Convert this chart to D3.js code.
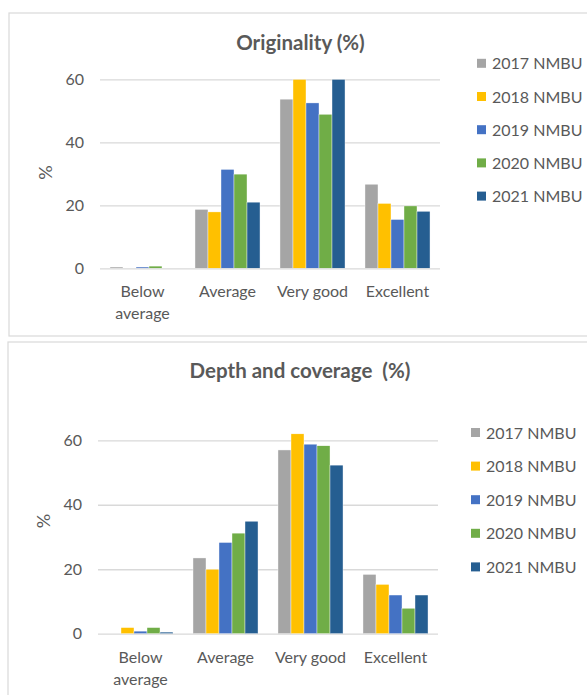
<!DOCTYPE html>
<html>
<head>
<meta charset="utf-8">
<script src="https://cdn.jsdelivr.net/npm/d3@7"></script>
<style>
  html, body { margin: 0; padding: 0; background: #fff; }
  svg { display: block; }
  text { font-family: Lato, "Open Sans", sans-serif; fill: #595959; }
</style>
</head>
<body>
<svg id="chart" width="587" height="695"></svg>
<script>
// ---- data ----
const categories = ["Below average", "Average", "Very good", "Excellent"];
const seriesNames = ["2017 NMBU", "2018 NMBU", "2019 NMBU", "2020 NMBU", "2021 NMBU"];
const seriesColors = ["#A5A5A5", "#FFC000", "#4472C4", "#70AD47", "#255E91"];
const yTicks = [0, 20, 40, 60];

// Originality (%) : values per series, in category order
const originality2017 = [0.4, 18.7, 53.7, 26.7];
const originality2018 = [0.0, 17.9, 60.0, 20.6];
const originality2019 = [0.4, 31.4, 52.5, 15.5];
const originality2020 = [0.7, 29.9, 48.9, 19.8];
const originality2021 = [0.0, 21.0, 60.0, 18.1];

// Depth and coverage (%)
const depth2017 = [0.0, 23.5, 57.0, 18.4];
const depth2018 = [1.9, 20.0, 62.0, 15.3];
const depth2019 = [0.8, 28.3, 58.8, 12.0];
const depth2020 = [1.9, 31.2, 58.3, 7.9];
const depth2021 = [0.5, 34.9, 52.3, 12.0];

const svg = d3.select("#chart");

function drawChart(cfg) {
  const g = svg.append("g");
  // panel border
  g.append("rect")
    .attr("x", cfg.panel[0]).attr("y", cfg.panel[1])
    .attr("width", cfg.panel[2]).attr("height", cfg.panel[3])
    .attr("fill", "#fff").attr("stroke", "#d9d9d9").attr("stroke-width", 1.2);

  const x0 = d3.scaleBand().domain(categories).range([cfg.x0, cfg.x1])
    .paddingInner(0.235).paddingOuter(0.1175);
  const x1 = d3.scaleBand().domain(seriesNames).range([0, x0.bandwidth()]);
  const y = d3.scaleLinear().domain([0, 60]).range([cfg.yZero, cfg.ySixty]);

  // gridlines + tick labels
  const axis = d3.axisLeft(y).tickValues(yTicks).tickSizeInner(-(cfg.x1 - cfg.x0))
    .tickSizeOuter(0).tickPadding(16);
  const ag = g.append("g").attr("transform", `translate(${cfg.x0},0)`).call(axis);
  ag.select(".domain").remove();
  ag.selectAll(".tick line").attr("stroke", "#d9d9d9").attr("stroke-width", 1.3);
  ag.selectAll(".tick text").attr("fill", "#595959")
    .style("font-family", "Lato, sans-serif").style("font-size", "16px");

  // bars
  const series = seriesNames.map((name, i) => ({ name, color: seriesColors[i], values: cfg.values[i] }));
  const clipId = "clip" + cfg.id;
  g.append("clipPath").attr("id", clipId).append("rect")
    .attr("x", cfg.x0).attr("y", y(cfg.clipMax)).attr("width", cfg.x1 - cfg.x0)
    .attr("height", y(0) - y(cfg.clipMax));
  const bars = g.append("g").attr("clip-path", `url(#${clipId})`);
  series.forEach(s => {
    bars.selectAll(null).data(categories.map((c, j) => ({ c, v: s.values[j] })))
      .enter().append("rect")
      .attr("x", d => x0(d.c) + x1(s.name))
      .attr("y", d => y(d.v))
      .attr("width", x1.bandwidth())
      .attr("height", d => y(0) - y(d.v))
      .attr("fill", s.color)
      .attr("stroke", "#ffffff").attr("stroke-width", 0.4);
  });

  // category labels
  categories.forEach(c => {
    const words = c === "Below average" ? ["Below", "average"] : [c];
    const t = g.append("text").attr("text-anchor", "middle")
      .attr("x", x0(c) + x0.bandwidth() / 2)
      .attr("y", cfg.yZero + 29)
      .style("font-size", "16px");
    words.forEach((w, k) => t.append("tspan")
      .attr("x", x0(c) + x0.bandwidth() / 2).attr("dy", k === 0 ? 0 : 22).text(w));
  });

  // y-axis title
  g.append("text").attr("text-anchor", "middle")
    .attr("transform", `translate(${cfg.yTitle[0]},${cfg.yTitle[1]}) rotate(-90)`)
    .style("font-size", "18px").text("%");

  // chart title
  g.append("text").attr("text-anchor", "middle")
    .attr("x", cfg.title[0]).attr("y", cfg.title[1])
    .style("font-size", "20.5px").style("font-weight", "bold")
    .attr("xml:space", "preserve")
    .text(cfg.titleText);

  // legend
  series.forEach((s, i) => {
    const cy = cfg.legend[1] + i * cfg.legendStep;
    g.append("rect").attr("x", cfg.legend[0]).attr("y", cy - 4.5)
      .attr("width", 9).attr("height", 9).attr("fill", s.color);
    g.append("text").attr("x", cfg.legend[0] + 15).attr("y", cy + 6)
      .style("font-size", "16px").text(s.name);
  });
}

drawChart({
  id: "a",
  panel: [9, 13, 590, 323],
  x0: 100, x1: 440, yZero: 268.3, ySixty: 79.3, clipMax: 60,
  values: [originality2017, originality2018, originality2019, originality2020, originality2021],
  yTitle: [52, 172.5],
  title: [300.5, 49.5], titleText: "Originality (%)",
  legend: [477, 63.3], legendStep: 33.2
});

drawChart({
  id: "b",
  panel: [8, 342, 590, 360],
  x0: 98, x1: 438, yZero: 633.7, ySixty: 440.3, clipMax: 70,
  values: [depth2017, depth2018, depth2019, depth2020, depth2021],
  yTitle: [50, 521],
  title: [300, 377.5], titleText: "Depth and coverage  (%)",
  legend: [471, 432.5], legendStep: 33.6
});
</script>
</body>
</html>
